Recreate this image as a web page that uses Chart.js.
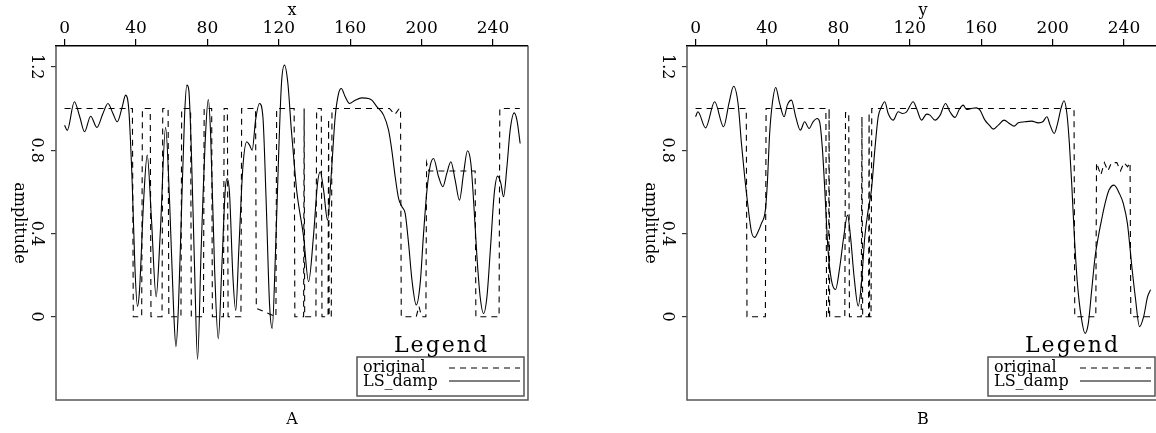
<!DOCTYPE html>
<html>
<head>
<meta charset="utf-8">
<script src="https://cdn.jsdelivr.net/npm/chart.js@4"></script>
<style>
  html, body { margin: 0; padding: 0; background: #fff; overflow: hidden; }
  .panel { position: absolute; top: 0; width: 580px; height: 433px; }
  #panelA { left: 0; }
  #panelB { left: 631px; }
</style>
</head>
<body>
<div class="panel" id="panelA"><canvas id="chartA"></canvas></div>
<div class="panel" id="panelB"><canvas id="chartB"></canvas></div>
<script>
// axis ticks shared by both panels
const xTicks = [0, 40, 80, 120, 160, 200, 240];
const yTicks = [0, 0.4, 0.8, 1.2];
const yTickLabels = ['0', '0.4', '0.8', '1.2'];
const seriesNames = ['original', 'LS_damp'];

// panel A (x section): original model, corner points
const origXA = [0, 38, 38.5, 43.2, 43.6, 48, 48.4, 54.6, 55, 58, 58.4, 65.2, 65.6, 70.6, 71, 77.8, 78.2, 82.4, 82.8,
  89, 89.4, 91.2, 91.6, 98.8, 99.2, 107, 107.4, 118.4, 118.8, 128.6, 129, 133.9, 134.2, 134.5, 140.8, 141.2,
  143.8, 144.2, 147.6, 147.9, 148.2, 149.4, 149.8, 182, 185, 187.5, 188.2, 188.6, 197, 198.5, 200, 202.4,
  202.8, 204, 230, 230.4, 243.4, 243.8, 255];
const origYA = [1, 1, 0, 0, 1, 1, 0, 0, 1, 1, 0, 0, 1, 1, 0, 0, 1, 1, 0,
  0, 1, 1, 0, 0, 1, 1, 0.04, 0, 1, 1, 0, 0, 1, 0, 0, 1,
  1, 0, 0, 0.95, 0, 0, 1, 1, 0.97, 1, 1, 0, 0, 0.05, 0, 0,
  0.74, 0.7, 0.7, 0, 0, 1, 1];

// panel A: damped least-squares result
const lsXA = [0, 1.5, 5.5, 8.5, 11.2, 14.6, 18.1, 21.5, 24.3, 27.1, 29.5, 32.3, 34.2, 36, 37.9, 39.4, 40.8, 42,
  44.3, 46.3, 48.6, 51.3, 53.6, 56.6, 58.8, 61.1, 62.4, 63.8, 65.4, 67.2, 68.5, 69.6, 71, 72.8, 74.5, 76.5,
  79, 80.5, 81.8, 84, 86.1, 88.1, 90, 91.1, 92.4, 94.3, 95.9, 97.6, 99.9, 102.1, 103.6, 105.1, 107, 109.2,
  111.1, 112.9, 114.8, 116.3, 118.2, 120, 121.5, 123.2, 125.1, 127, 128.8, 130.1, 133.9, 136.7, 139.4,
  141.7, 143.2, 145.1, 147.3, 149.3, 151.6, 153.5, 155, 157.2, 159.6, 162.8, 166.5, 170.3, 172.1, 175,
  178.7, 181.5, 183.3, 185.2, 187.1, 189, 190.8, 192.7, 194.6, 197, 199.2, 201.1, 203, 204.9, 206.7,
  209.5, 211.9, 214.1, 216.4, 218.8, 221.2, 223.5, 225.7, 227.6, 229.1, 231, 232.8, 234.7, 236.6, 238.5,
  240.7, 242.6, 244.4, 245.9, 247.8, 249.6, 251.9, 253.4, 255.2];
const lsYA = [0.92, 0.895, 1.032, 0.96, 0.888, 0.963, 0.909, 0.976, 1.024, 0.976, 0.936, 1.008, 1.064, 0.992, 0.64, 0.24, 0.05, 0.13,
  0.56, 0.776, 0.48, 0.096, 0.4, 0.909, 0.56, 0.03, -0.144, 0.05, 0.48, 0.96, 1.112, 1.088, 0.8, 0.24, -0.205, 0.32,
  0.88, 1.043, 0.88, 0.24, -0.106, 0.24, 0.608, 0.664, 0.592, 0.192, 0.03, 0.32, 0.72, 0.84, 0.824, 0.8, 0.944, 1.024,
  0.96, 0.56, 0.064, -0.056, 0.32, 0.8, 1.12, 1.208, 1.12, 0.9, 0.72, 0.6, 0.384, 0.168, 0.384,
  0.64, 0.696, 0.608, 0.464, 0.672, 0.96, 1.072, 1.096, 1.056, 1.024, 1.04, 1.051, 1.048, 1.04, 1.008,
  0.968, 0.896, 0.8, 0.672, 0.568, 0.528, 0.496, 0.352, 0.176, 0.056, 0.16, 0.4, 0.608, 0.728, 0.76,
  0.672, 0.624, 0.688, 0.744, 0.656, 0.56, 0.688, 0.797, 0.736, 0.56, 0.288, 0.096, 0.016, 0.096, 0.32,
  0.592, 0.675, 0.64, 0.576, 0.72, 0.896, 0.979, 0.944, 0.832];

// panel B (y section): original model, corner points
const origXB = [0, 28.4, 28.8, 39.1, 39.5, 73, 73.4, 74.5, 74.8, 75.1, 83.6, 84, 85.8, 86.2, 92.8, 93.2, 93.6,
  96.9, 97.2, 97.5, 98.3, 98.7, 212, 212.4, 224.2, 224.6, 227, 229, 231, 233, 236, 238, 240, 242, 243.4,
  243.8, 255];
const origYB = [1, 1, 0, 0, 1, 1, 0, 0, 1, 0, 0, 0.98, 0.98, 0, 0, 0.96, 0,
  0, 0.98, 0, 0, 1, 1, 0, 0, 0.74, 0.68, 0.74, 0.7, 0.74, 0.74, 0.7, 0.74, 0.72, 0.74,
  0, 0];

// panel B: damped least-squares result
const lsXB = [0, 1.3, 5.6, 10.7, 15.7, 18.7, 21.3, 23.8, 25.7, 27.5, 29.4, 31.3, 33.1, 35, 36.9, 39.1, 40.2,
  41.5, 43, 44.9, 47.1, 49.6, 51.4, 53.7, 56.1, 58.7, 61.1, 63.6, 65.8, 68.1, 69.5, 71.1, 72.4, 74.2, 76.1,
  78.4, 80.8, 83, 85.1, 86.8, 88.8, 91.1, 92.9, 94.8, 96.7, 98.5, 100.4, 102.3, 104.2, 106, 107.9, 110.7,
  113.5, 115.9, 118.2, 121.9, 123.8, 126.6, 129.4, 131.3, 134.1, 137, 140, 142.5, 145.3, 147.7, 149.9,
  151.8, 154.6, 157.4, 159.3, 162.1, 164.5, 166.8, 169.6, 172.8, 175.8, 178.4, 180.8, 184.5, 188.3, 192,
  194.5, 196.8, 198.6, 200.9, 202.8, 204.7, 206.4, 208, 209.4, 210.7, 212.1, 213.9, 216, 218.2, 220, 221.9,
  223.8, 225.6, 227.4, 229.4, 231.6, 234.4, 237.4, 239.6, 241.9, 244.4, 246.3, 248.7, 251, 253.2, 254.9];
const lsYB = [0.96, 0.984, 0.907, 1.032, 0.912, 1.024, 1.107, 1.024, 0.832, 0.672, 0.528, 0.408, 0.381, 0.408, 0.448, 0.512, 0.64,
  0.88, 1.024, 1.101, 1.024, 0.96, 1.016, 1.04, 0.96, 0.896, 0.936, 0.904, 0.936, 0.952, 0.936, 0.8, 0.608, 0.32, 0.176,
  0.131, 0.24, 0.384, 0.488, 0.384, 0.192, 0.051, 0.16, 0.384, 0.512, 0.608, 0.8, 0.96, 1.008, 1.032, 0.976, 0.944,
  0.984, 0.976, 0.984, 1.032, 1.0, 0.944, 0.973, 0.968, 0.944, 0.968, 1.024, 0.984, 0.957, 0.995, 1.016,
  0.995, 1.0, 1.003, 0.992, 0.944, 0.92, 0.901, 0.92, 0.944, 0.928, 0.915, 0.931, 0.936, 0.939, 0.931,
  0.936, 0.96, 0.92, 0.88, 0.928, 1.0, 1.037, 0.976, 0.832, 0.64, 0.4, 0.16, 0, -0.08, -0.032, 0.128,
  0.288, 0.384, 0.464, 0.544, 0.608, 0.632, 0.592, 0.544, 0.448, 0.24, 0.096, -0.048, 0, 0.096, 0.13];

const FONT = '"DejaVu Serif", serif';
const INK = '#000';
const FRAME = '#555';

Chart.defaults.font.family = FONT;
Chart.defaults.color = INK;

function toPoints(xs, ys) {
  return xs.map((x, i) => ({ x: x, y: ys[i] }));
}

// frame, rotated y labels, caption and the boxed legend
const panelDecor = {
  id: 'panelDecor',
  afterDraw(chart, args, opts) {
    const { ctx, chartArea: a, scales } = chart;
    ctx.save();

    // left, right and bottom edges of the frame (top edge is the x axis border)
    ctx.strokeStyle = FRAME;
    ctx.lineWidth = 1.5;
    ctx.beginPath();
    ctx.moveTo(a.left, a.top);
    ctx.lineTo(a.left, a.bottom);
    ctx.lineTo(a.right, a.bottom);
    ctx.lineTo(a.right, a.top);
    ctx.stroke();

    // y tick labels, turned clockwise
    ctx.fillStyle = INK;
    ctx.font = '16px ' + FONT;
    ctx.textAlign = 'center';
    ctx.textBaseline = 'middle';
    yTicks.forEach((v, i) => {
      const y = scales.y.getPixelForValue(v);
      ctx.save();
      ctx.translate(a.left - 20, y);
      ctx.rotate(Math.PI / 2);
      ctx.fillText(yTickLabels[i], 0, 0);
      ctx.restore();
    });

    // y axis title
    ctx.save();
    ctx.translate(a.left - 37, (a.top + a.bottom) / 2);
    ctx.rotate(Math.PI / 2);
    ctx.fillText('amplitude', 0, 0);
    ctx.restore();

    // caption under the panel
    ctx.fillText(opts.caption, (a.left + a.right) / 2, a.bottom + 20);

    // legend box in the lower right corner
    const boxW = 167, boxH = 39;
    const bx = a.right - 4 - boxW;
    const by = a.bottom - 4 - boxH;
    ctx.fillStyle = '#fff';
    ctx.fillRect(bx, by, boxW, boxH);
    ctx.strokeStyle = FRAME;
    ctx.lineWidth = 1.5;
    ctx.strokeRect(bx, by, boxW, boxH);

    ctx.fillStyle = INK;
    ctx.font = '22px ' + FONT;
    ctx.letterSpacing = '2px';
    ctx.textBaseline = 'alphabetic';
    ctx.fillText('Legend', bx + boxW / 2 + 1, by - 5);
    ctx.letterSpacing = '0px';

    ctx.font = '16px ' + FONT;
    ctx.textAlign = 'left';
    ctx.fillText(seriesNames[0], bx + 6, by + 15);
    ctx.fillText(seriesNames[1], bx + 6, by + 29);

    ctx.strokeStyle = INK;
    ctx.lineWidth = 1.2;
    ctx.setLineDash([6, 5]);
    ctx.beginPath();
    ctx.moveTo(bx + boxW - 75, by + 11);
    ctx.lineTo(bx + boxW - 4, by + 11);
    ctx.stroke();
    ctx.setLineDash([]);
    ctx.beginPath();
    ctx.moveTo(bx + boxW - 75, by + 24);
    ctx.lineTo(bx + boxW - 4, by + 24);
    ctx.stroke();

    ctx.restore();
  },
};

function buildPanel(canvasId, axisName, caption, origX, origY, lsX, lsY) {
  const ctx = document.getElementById(canvasId);
  return new Chart(ctx, {
    type: 'line',
    data: {
      datasets: [
        {
          label: seriesNames[0],
          data: toPoints(origX, origY),
          borderColor: INK,
          borderWidth: 1.1,
          borderDash: [6, 5],
          pointRadius: 0,
          tension: 0,
        },
        {
          label: seriesNames[1],
          data: toPoints(lsX, lsY),
          borderColor: INK,
          borderWidth: 1.1,
          pointRadius: 0,
          cubicInterpolationMode: 'monotone',
        },
      ],
    },
    options: {
      animation: false,
      responsive: true,
      maintainAspectRatio: false,
      devicePixelRatio: 1,
      layout: {
        padding: { left: 0, top: 0, right: 52, bottom: 33 },
      },
      scales: {
        x: {
          type: 'linear',
          position: 'top',
          min: -4.8,
          max: 259.6,
          afterBuildTicks: (scale) => { scale.ticks = xTicks.map((v) => ({ value: v })); },
          afterFit: (scale) => { scale.height = 46; },
          grid: {
            drawOnChartArea: false,
            drawTicks: true,
            tickLength: 7,
            color: INK,
            lineWidth: 1.2,
          },
          border: { display: true, color: INK, width: 1.5 },
          ticks: {
            color: INK,
            padding: 0,
            maxRotation: 0,
            font: { family: FONT, size: 17 },
            callback: (v) => String(v),
          },
          title: {
            display: true,
            text: axisName,
            color: INK,
            font: { family: FONT, size: 16 },
            padding: { top: 1, bottom: 0 },
          },
        },
        y: {
          type: 'linear',
          position: 'left',
          min: -0.4,
          max: 1.3,
          afterBuildTicks: (scale) => { scale.ticks = yTicks.map((v) => ({ value: v })); },
          afterFit: (scale) => { scale.width = 56; },
          grid: {
            drawOnChartArea: false,
            drawTicks: true,
            tickLength: 5,
            color: '#333',
            lineWidth: 1.2,
          },
          border: { display: false },
          ticks: { display: false },
        },
      },
      plugins: {
        legend: { display: false },
        tooltip: { enabled: false },
        panelDecor: { caption: caption },
      },
    },
    plugins: [panelDecor],
  });
}

buildPanel('chartA', 'x', 'A', origXA, origYA, lsXA, lsYA);
buildPanel('chartB', 'y', 'B', origXB, origYB, lsXB, lsYB);
</script>
</body>
</html>
